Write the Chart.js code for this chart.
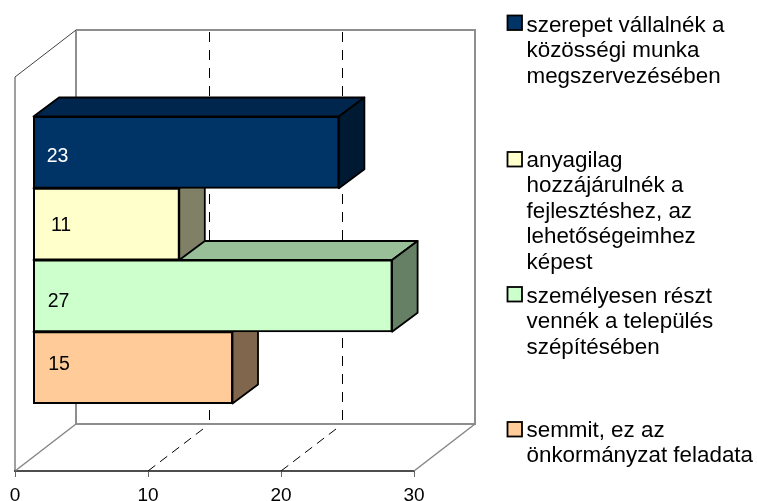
<!DOCTYPE html>
<html>
<head>
<meta charset="utf-8">
<script src="https://cdn.jsdelivr.net/npm/chart.js@4/dist/chart.umd.min.js"></script>
<style>html,body{margin:0;padding:0;background:#fff}canvas{display:block}</style>
</head>
<body>
<canvas id="c" width="757" height="501"></canvas>
<script>
const categories = [''];
const seriesLines = [
  ['szerepet vállalnék a', 'közösségi munka', 'megszervezésében'],
  ['anyagilag', 'hozzájárulnék a', 'fejlesztéshez, az', 'lehetőségeimhez', 'képest'],
  ['személyesen részt', 'vennék a település', 'szépítésében'],
  ['semmit, ez az', 'önkormányzat feladata']
];
const values = [23, 11, 27, 15];
const frontColors = ['#003366', '#FFFFCC', '#CCFFCC', '#FFCC99'];
const topColors = ['#00264D', '#BFBF99', '#99BF99', '#BF9973'];
const sideColors = ['#001A33', '#808066', '#668066', '#80664D'];
const labelColors = ['#FFFFFF', '#000000', '#000000', '#000000'];
const labelOffsetX = [24.5, 28, 25.5, 26];
const labelOffsetY = [4.4, 1.6, 5.8, -2.6];
const legendBoxTop = [15.5, 152, 287, 422];
const legendFirstBaseline = [32, 167, 303, 437];
const xTicks = [0, 10, 20, 30];

const FONT = '"Liberation Sans", Arial, sans-serif';
const wall = {dx: 61, dy: 47};
const plane = {dx: 18, dy: -14};
const depth = {dx: 25.5, dy: -19};

const walls3d = {
  id: 'walls3d',
  beforeDatasetsDraw(chart) {
    const {ctx, chartArea: a, scales: {x}} = chart;
    const L = a.left, R = a.right, T = a.top, B = a.bottom;
    const seg = (pts, color, w, dash) => {
      ctx.save();
      ctx.beginPath();
      pts.forEach((p, i) => i ? ctx.lineTo(p[0], p[1]) : ctx.moveTo(p[0], p[1]));
      ctx.strokeStyle = color; ctx.lineWidth = w; ctx.setLineDash(dash || []);
      ctx.stroke();
      ctx.restore();
    };
    xTicks.slice(1, -1).forEach(v => {
      const p = x.getPixelForValue(v);
      seg([[p + wall.dx + 0.5, T - wall.dy + 2], [p + wall.dx + 0.5, B - wall.dy]], '#000000', 1, [10, 8]);
      seg([[p + wall.dx - 6, B - wall.dy + 5], [p, B]], '#000000', 1, [9, 6]);
    });
    seg([[L + wall.dx, T - wall.dy], [R + wall.dx, T - wall.dy], [R + wall.dx, B - wall.dy], [L + wall.dx, B - wall.dy], [L + wall.dx, T - wall.dy]], '#8E8E8E', 2);
    seg([[R + wall.dx, B - wall.dy], [R, B]], '#868686', 1.5);
    seg([[L + wall.dx, B - wall.dy], [L, B]], '#868686', 1.5);
    seg([[L, B], [L, T], [L + wall.dx, T - wall.dy]], '#404040', 1);
    ctx.save();
    ctx.translate(plane.dx, plane.dy);
  },
  beforeDatasetDraw(chart, args) {
    const {ctx} = chart;
    const el = chart.getDatasetMeta(args.index).data[0];
    const x0 = el.base, x1 = el.x, y0 = el.y - el.height / 2, y1 = el.y + el.height / 2;
    const face = (pts, color) => {
      ctx.beginPath();
      pts.forEach((p, i) => i ? ctx.lineTo(p[0], p[1]) : ctx.moveTo(p[0], p[1]));
      ctx.closePath();
      ctx.fillStyle = color; ctx.fill();
      ctx.strokeStyle = '#000000'; ctx.lineWidth = 1.8; ctx.lineJoin = 'round'; ctx.stroke();
    };
    face([[x0, y0], [x0 + depth.dx, y0 + depth.dy], [x1 + depth.dx, y0 + depth.dy], [x1, y0]], topColors[args.index]);
    face([[x1, y0], [x1 + depth.dx, y0 + depth.dy], [x1 + depth.dx, y1 + depth.dy], [x1, y1]], sideColors[args.index]);
  },
  afterDatasetDraw(chart, args) {
    const {ctx} = chart;
    const el = chart.getDatasetMeta(args.index).data[0];
    ctx.save();
    ctx.font = '19.5px ' + FONT;
    ctx.fillStyle = labelColors[args.index];
    ctx.textAlign = 'center'; ctx.textBaseline = 'middle';
    ctx.fillText(String(values[args.index]), el.base + labelOffsetX[args.index] - 0.5, el.y + labelOffsetY[args.index]);
    ctx.restore();
  },
  afterDatasetsDraw(chart) {
    chart.ctx.restore();
  },
  afterDraw(chart) {
    const {ctx} = chart;
    ctx.save();
    seriesLines.forEach((lines, i) => {
      ctx.fillStyle = frontColors[i];
      ctx.strokeStyle = '#000000';
      ctx.lineWidth = 1.8;
      ctx.fillRect(507.5, legendBoxTop[i], 14.5, 14.5);
      ctx.strokeRect(507.5, legendBoxTop[i], 14.5, 14.5);
      ctx.fillStyle = '#000000';
      ctx.font = '22.4px ' + FONT;
      ctx.textAlign = 'left'; ctx.textBaseline = 'alphabetic';
      lines.forEach((t, j) => ctx.fillText(t, 526.5, legendFirstBaseline[i] + j * 25.4));
    });
    ctx.restore();
  }
};

new Chart(document.getElementById('c'), {
  type: 'bar',
  data: {
    labels: categories,
    datasets: values.map((v, i) => ({
      label: seriesLines[i].join(' '),
      data: [v],
      backgroundColor: frontColors[i],
      borderColor: '#000000',
      borderWidth: 2,
      borderSkipped: false,
      inflateAmount: 0.5,
      barPercentage: 1,
      categoryPercentage: 0.7284
    }))
  },
  options: {
    indexAxis: 'y',
    responsive: false,
    animation: false,
    layout: {padding: {left: 15, right: 343, top: 77, bottom: 0}},
    plugins: {legend: {display: false}, tooltip: {enabled: false}},
    scales: {
      x: {
        min: 0, max: 30,
        afterFit(s) { s.height = 30; },
        afterBuildTicks(s) { s.ticks = xTicks.map(v => ({value: v})); },
        grid: {drawOnChartArea: false, drawTicks: true, tickLength: 6, color: '#666666', lineWidth: 1},
        border: {display: true, color: '#4D4D4D', width: 2},
        ticks: {color: '#000000', font: {family: FONT, size: 19}, padding: 7, maxRotation: 0, autoSkip: false}
      },
      y: {display: false}
    }
  },
  plugins: [walls3d]
});
</script>
</body>
</html>
